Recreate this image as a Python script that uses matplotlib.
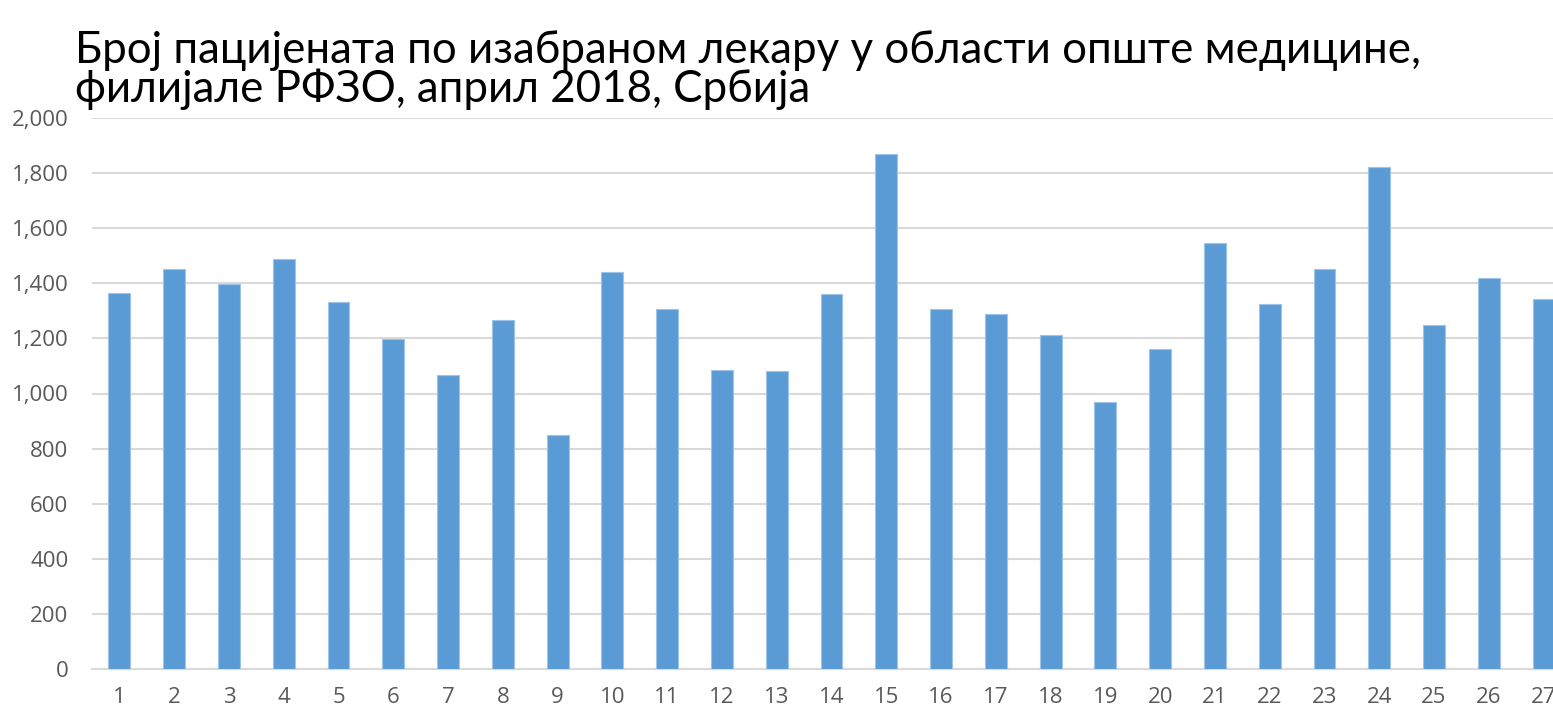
import matplotlib.pyplot as plt
from matplotlib.ticker import FuncFormatter

plt.rcParams['font.family'] = ['Open Sans', 'DejaVu Sans']

filijale = [str(i) for i in range(1, 28)]
pacijenti = [1365, 1452, 1397, 1488, 1332, 1198, 1067, 1267, 849, 1441,
             1307, 1085, 1082, 1361, 1869, 1307, 1289, 1212, 969, 1162,
             1546, 1325, 1452, 1822, 1249, 1419, 1343]

naslov1 = "Број пацијената по изабраном лекару у области опште медицине,"
naslov2 = "филијале РФЗО, април 2018, Србија"

fig = plt.figure(figsize=(15.53, 7.08), dpi=100)
ax = fig.add_axes([92 / 1553, 39 / 708, 1479 / 1553, 551 / 708])

x = list(range(len(filijale)))
ax.bar(x, pacijenti, width=0.4, color="#5B9BD5", edgecolor="#9DC3E6",
       linewidth=0.8, zorder=3)

ax.set_xlim(-0.5, len(filijale) - 0.5)
ax.set_ylim(0, 2000)
ax.set_yticks(range(0, 2001, 200))
ax.yaxis.set_major_formatter(FuncFormatter(lambda v, p: f"{int(v):,}"))
ax.set_xticks(x)
ax.set_xticklabels(filijale)

ax.grid(axis="y", color="#d9d9d9", linewidth=1.5, zorder=0)
for s in ["top", "right", "left"]:
    ax.spines[s].set_visible(False)
ax.spines["bottom"].set_color("#d9d9d9")
ax.spines["bottom"].set_linewidth(1.5)
ax.tick_params(axis="both", length=0, labelsize=16, colors="#595959")
ax.tick_params(axis="y", pad=17)
ax.tick_params(axis="x", pad=13)

# naslov: velicina fonta tako da prvi red bude sirok kao u originalu
naslov_font = ["Lato", "Open Sans", "DejaVu Sans"]
t1 = fig.text(75 / 1553, 1 - 63 / 708, naslov1, fontsize=36, color="black",
              va="baseline", ha="left", family=naslov_font)
r = fig.canvas.get_renderer()
w = t1.get_window_extent(r).width
size = 36 * 1345 / w
t1.set_fontsize(size)
fig.text(75 / 1553, 1 - 102 / 708, naslov2, fontsize=size, color="black",
         va="baseline", ha="left", family=naslov_font)

fig.savefig("out.png", dpi=100)
